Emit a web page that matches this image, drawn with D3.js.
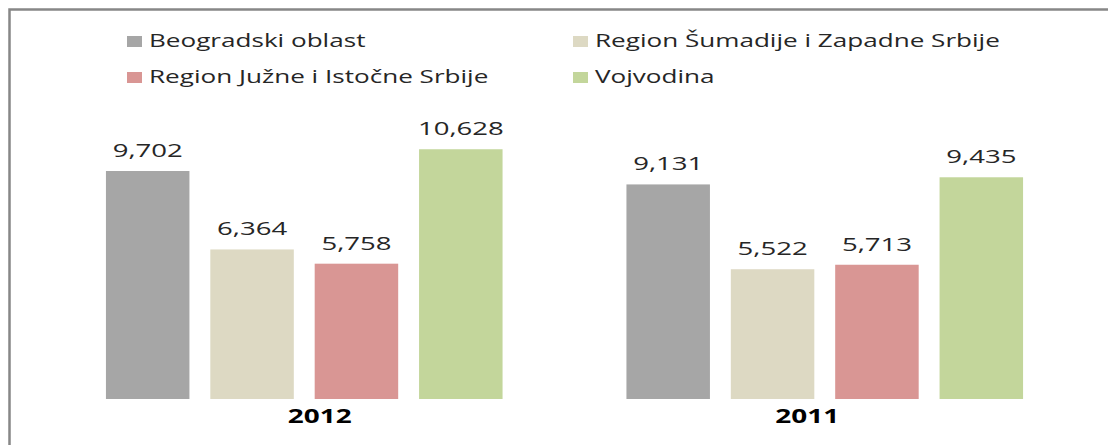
<!DOCTYPE html>
<html>
<head>
<meta charset="utf-8">
<script src="https://cdn.jsdelivr.net/npm/d3@7"></script>
<style>
  html, body { margin: 0; padding: 0; background: #fff; }
  svg { display: block; font-family: "Open Sans", sans-serif; }
</style>
</head>
<body>
<svg id="chart" width="1108" height="445"></svg>
<script>
// Years shown as groups, regions as bars within each group
const years = ["2012", "2011"];
const regions = [
  "Beogradski oblast",
  "Region Šumadije i Zapadne Srbije",
  "Region Južne i Istočne Srbije",
  "Vojvodina"
];
const values2012 = [9702, 6364, 5758, 10628];
const values2011 = [9131, 5522, 5713, 9435];
const colors = ["#a6a6a6", "#ddd9c3", "#d99694", "#c3d69b"];

const seriesByYear = { "2012": values2012, "2011": values2011 };
const fmt = d3.format(",");
const stretch = 1.45;

const svg = d3.select("#chart");

// frame (top and left edge of the chart area)
svg.append("path")
  .attr("d", "M9.5,445 V9.5 H1108")
  .attr("fill", "none")
  .attr("stroke", "#878787")
  .attr("stroke-width", 2.5);

const x0 = d3.scaleBand().domain(years).range([44, 1085]).paddingInner(0.238).paddingOuter(0.119);
const x1 = d3.scaleBand().domain(regions).range([0, x0.bandwidth()]).paddingInner(0.2).paddingOuter(0);
// category labels sit on their own evenly split axis
const xLabel = d3.scaleBand().domain(years).range([76, 1051]);
const y = d3.scaleLinear().domain([0, 12000]).range([399, 117]);
const color = d3.scaleOrdinal().domain(regions).range(colors);

const groups = svg.selectAll("g.year")
  .data(years)
  .join("g")
  .attr("class", "year")
  .attr("transform", d => `translate(${x0(d)},0)`);

const cells = groups.selectAll("g.bar")
  .data(yr => regions.map((r, i) => ({ region: r, value: seriesByYear[yr][i] })))
  .join("g")
  .attr("class", "bar");

cells.append("rect")
  .attr("x", d => x1(d.region))
  .attr("y", d => y(d.value))
  .attr("width", x1.bandwidth())
  .attr("height", d => y(0) - y(d.value))
  .attr("fill", d => color(d.region));

cells.append("text")
  .attr("transform", d => `translate(${x1(d.region) + x1.bandwidth() / 2},${y(d.value) - 14}) scale(${stretch},1)`)
  .attr("text-anchor", "middle")
  .attr("font-size", 19)
  .attr("fill", "#262626")
  .text(d => fmt(d.value));

// category axis labels
svg.selectAll("text.cat")
  .data(years)
  .join("text")
  .attr("class", "cat")
  .attr("transform", d => `translate(${xLabel(d) + xLabel.bandwidth() / 2},423) scale(1.47,1)`)
  .attr("text-anchor", "middle")
  .attr("font-size", 19)
  .attr("font-weight", "bold")
  .attr("fill", "#000")
  .text(d => d);

// legend: two columns, two rows
const legendPos = [[127, 47], [573, 47], [127, 83], [573, 83]];
const legend = svg.selectAll("g.legend")
  .data(regions)
  .join("g")
  .attr("class", "legend")
  .attr("transform", (d, i) => `translate(${legendPos[i][0]},${legendPos[i][1]})`);

legend.append("rect")
  .attr("x", 0).attr("y", -11)
  .attr("width", 15).attr("height", 11)
  .attr("fill", d => color(d));

legend.append("text")
  .attr("transform", `translate(22,0) scale(1.45,1)`)
  .attr("font-size", 18)
  .attr("fill", "#262626")
  .text(d => d);
</script>
</body>
</html>
